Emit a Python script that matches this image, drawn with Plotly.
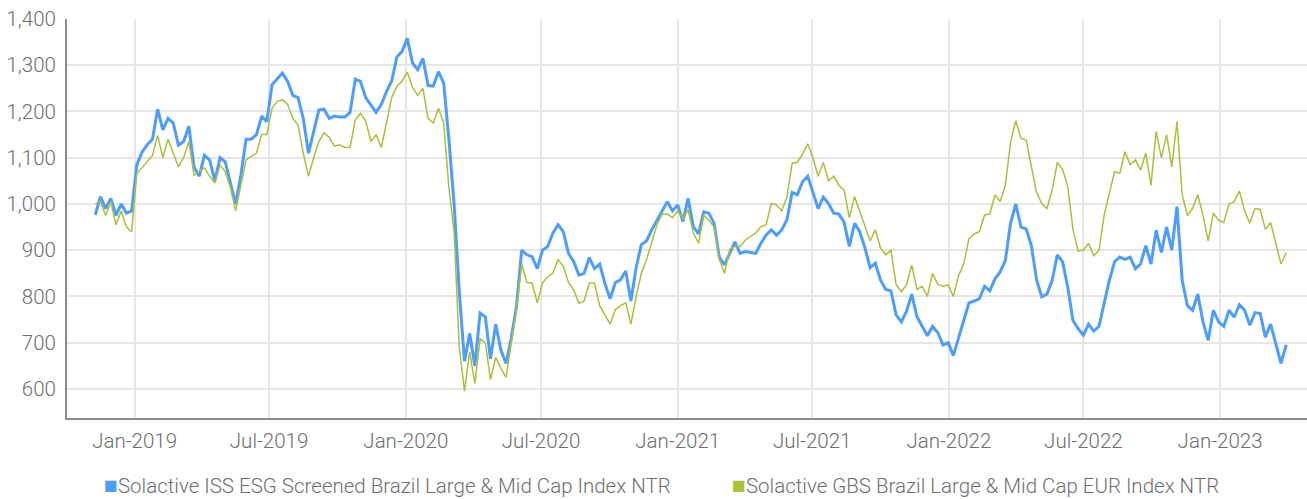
import pandas as pd
import plotly.graph_objects as go

# Weekly index levels (Fridays), Nov 2018 - Mar 2023
start_date = "2018-11-09"

esg_screened = [
    976, 1016, 990, 1012, 975, 1000, 980, 985, 1085, 1112,
    1128, 1140, 1205, 1160, 1185, 1175, 1127, 1135, 1168, 1080,
    1060, 1105, 1095, 1050, 1100, 1091, 1045, 1000, 1062, 1140,
    1140, 1150, 1190, 1178, 1258, 1270, 1283, 1265, 1235, 1230,
    1185, 1110, 1160, 1203, 1205, 1185, 1190, 1188, 1188, 1198,
    1270, 1265, 1230, 1215, 1198, 1215, 1243, 1266, 1318, 1330,
    1358, 1305, 1290, 1315, 1256, 1255, 1286, 1262, 1140, 1000,
    810, 660, 720, 650, 764, 756, 665, 740, 684, 655,
    710, 778, 900, 890, 886, 860, 900, 908, 937, 955,
    940, 893, 875, 846, 850, 884, 860, 870, 828, 795,
    830, 836, 855, 790, 862, 912, 920, 944, 965, 985,
    1005, 985, 998, 962, 1012, 951, 935, 983, 980, 958,
    885, 868, 895, 918, 893, 897, 895, 893, 915, 933,
    944, 932, 944, 966, 1025, 1020, 1048, 1060, 1025, 990,
    1015, 1001, 980, 978, 960, 908, 958, 940, 905, 862,
    872, 835, 815, 812, 760, 745, 768, 805, 756, 735,
    715, 735, 722, 695, 700, 672, 710, 749, 786, 790,
    795, 822, 812, 838, 853, 878, 958, 1000, 950, 946,
    910, 836, 799, 805, 835, 890, 875, 820, 748, 730,
    716, 740, 725, 735, 784, 835, 875, 885, 880, 885,
    860, 870, 910, 870, 943, 895, 950, 900, 994, 835,
    780, 770, 805, 745, 705, 770, 745, 735, 770, 755,
    782, 770, 738, 765, 763, 712, 740, 700, 655, 695,
]

gbs_brazil_eur = [
    1000, 1005, 975, 1005, 955, 985, 950, 940, 1065, 1078,
    1092, 1105, 1148, 1100, 1140, 1110, 1080, 1100, 1135, 1062,
    1070, 1078, 1060, 1045, 1084, 1070, 1035, 985, 1040, 1095,
    1103, 1110, 1150, 1150, 1207, 1222, 1225, 1215, 1185, 1170,
    1110, 1060, 1100, 1135, 1154, 1144, 1125, 1128, 1122, 1122,
    1182, 1196, 1180, 1135, 1150, 1122, 1175, 1230, 1254, 1266,
    1285, 1252, 1235, 1250, 1185, 1175, 1207, 1175, 1035, 940,
    690, 595, 680, 612, 708, 700, 620, 668, 645, 625,
    700, 771, 870, 830, 829, 786, 829, 843, 850, 880,
    865, 830, 814, 785, 790, 829, 829, 780, 760, 740,
    771, 780, 786, 740, 799, 850, 879, 915, 955, 978,
    978, 970, 985, 968, 987, 937, 915, 975, 965, 950,
    880, 850, 902, 908, 908, 922, 930, 937, 951, 955,
    1001, 998, 985, 1015, 1088, 1090, 1108, 1130, 1100, 1060,
    1090, 1050, 1060, 1040, 1030, 970, 1016, 985, 955, 920,
    944, 905, 890, 900, 825, 810, 825, 868, 815, 822,
    800, 850, 826, 822, 825, 800, 845, 870, 925, 935,
    940, 976, 978, 1020, 1005, 1041, 1133, 1180, 1142, 1138,
    1081, 1025, 1001, 990, 1030, 1090, 1075, 1037, 945, 898,
    900, 915, 888, 900, 976, 1020, 1070, 1066, 1113, 1085,
    1095, 1073, 1110, 1040, 1157, 1100, 1150, 1080, 1178, 1020,
    975, 990, 1020, 975, 920, 980, 965, 960, 1000, 1005,
    1028, 985, 958, 990, 988, 945, 960, 915, 870, 895,
]

series_names = [
    "Solactive ISS ESG Screened Brazil Large & Mid Cap Index NTR",
    "Solactive GBS Brazil Large & Mid Cap EUR Index NTR",
]
series_colors = ["#4d9dfd", "#a9c139"]

x_tick_dates = [
    "2019-01-01", "2019-07-01", "2020-01-01", "2020-07-01", "2021-01-01",
    "2021-07-01", "2022-01-01", "2022-07-01", "2023-01-01",
]
x_tick_labels = [
    "Jan-2019", "Jul-2019", "Jan-2020", "Jul-2020", "Jan-2021",
    "Jul-2021", "Jan-2022", "Jul-2022", "Jan-2023",
]
y_tick_values = [600, 700, 800, 900, 1000, 1100, 1200, 1300, 1400]

dates = pd.date_range(start_date, periods=len(esg_screened), freq="7D")

FONT = "Roboto, Liberation Sans, sans-serif"
FONT_SIZE = 20.5
TEXT_GREY = "#6e6e6e"
GRID = "#e6e6e6"
AXIS = "#8c8c8c"

fig = go.Figure()
fig.add_trace(go.Scatter(
    x=dates, y=esg_screened, mode="lines", name=series_names[0],
    line=dict(color=series_colors[0], width=3), showlegend=False,
))
fig.add_trace(go.Scatter(
    x=dates, y=gbs_brazil_eur, mode="lines", name=series_names[1],
    line=dict(color=series_colors[1], width=1.5), showlegend=False,
))

fig.update_layout(
    width=1307, height=499,
    margin=dict(l=67, r=0, t=19, b=81),
    paper_bgcolor="white", plot_bgcolor="white",
    font=dict(family=FONT, size=FONT_SIZE, color=TEXT_GREY, weight=300),
    showlegend=False,
)
fig.update_xaxes(
    range=["2018-10-02", "2023-04-28"],
    tickvals=x_tick_dates, ticktext=x_tick_labels,
    tickfont=dict(family=FONT, size=FONT_SIZE, color=TEXT_GREY, weight=300),
    showgrid=True, gridcolor=GRID, gridwidth=2,
    showline=True, linecolor=AXIS, linewidth=2,
    ticks="", ticklabelstandoff=3, zeroline=False,
)
fig.update_yaxes(
    range=[537, 1400],
    tickvals=y_tick_values, tickformat=",",
    tickfont=dict(family=FONT, size=FONT_SIZE, color=TEXT_GREY, weight=300),
    showgrid=True, gridcolor=GRID, gridwidth=2,
    showline=True, linecolor=AXIS, linewidth=2,
    ticks="", ticklabelstandoff=5, zeroline=False,
)

# Legend row: coloured square followed by series name
legend_x_px = [102, 730]
for name, color, px in zip(series_names, series_colors, legend_x_px):
    fig.add_annotation(
        xref="paper", yref="paper",
        x=(px - 67) / 1240, y=(418 - 485) / 399,
        xanchor="left", yanchor="middle", showarrow=False,
        text=f"<span style='color:{color};font-size:23px'>■</span>{name}",
        font=dict(family=FONT, size=FONT_SIZE, color=TEXT_GREY, weight=300),
    )

fig.write_html("out.html")
